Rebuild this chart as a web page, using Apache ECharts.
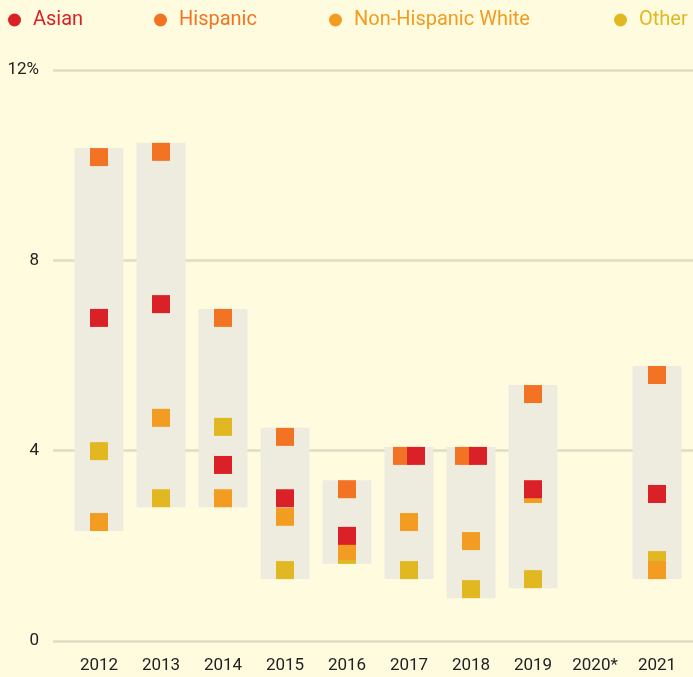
<!DOCTYPE html>
<html>
<head>
<meta charset="utf-8">
<title>Rates by group</title>
<script src="https://cdn.jsdelivr.net/npm/echarts@6/dist/echarts.min.js"></script>
<style>
  html, body { margin: 0; padding: 0; background: #fffbdf; }
  #chart { width: 693px; height: 677px; }
</style>
</head>
<body>
<div id="chart"></div>
<script>
const years = ['2012', '2013', '2014', '2015', '2016', '2017', '2018', '2019', '2020*', '2021']
const yTicks = [0, 4, 8, 12]

// values in %, 2020 has no data
const asian = [6.79, 7.08, 3.7, 3.0, 2.21, 3.89, 3.89, 3.19, null, 3.09]
const hispanic = [10.17, 10.28, 6.79, 4.29, 3.19, 3.89, 3.89, 5.19, null, 5.59]
const nonHispanicWhite = [2.5, 4.69, 3.0, 2.61, 1.89, 2.5, 2.1, 3.09, null, 1.49]
const other = [3.99, 3.0, 4.5, 1.49, 1.81, 1.49, 1.09, 1.3, null, 1.7]

const groups = [
  { name: 'Asian', values: asian, color: '#db2128', z: 5 },
  { name: 'Hispanic', values: hispanic, color: '#f37324', z: 4 },
  { name: 'Non-Hispanic White', values: nonHispanicWhite, color: '#f29c22', z: 3 },
  { name: 'Other', values: other, color: '#e2b822', z: 2 }
]

const axisFont = "'Liberation Sans Narrow', 'Roboto', sans-serif"
const markSize = 18
const dodge = 7

// range of each year (min..max over the groups)
const ranges = []
years.forEach((y, i) => {
  const vals = groups.map(g => g.values[i]).filter(v => v != null)
  if (vals.length) ranges.push([i, Math.min(...vals), Math.max(...vals)])
})

// squares with the exact same value in a year are put side by side,
// the one drawn on top goes to the right
const markSeries = groups.map((g, gi) => {
  const data = g.values.map((v, i) => {
    if (v == null) return null
    const same = groups.map((o, oi) => o.values[i] === v ? oi : -1).filter(x => x >= 0).reverse()
    if (same.length < 2) return [i, v]
    const pos = same.indexOf(gi)
    const off = (pos - (same.length - 1) / 2) * 2 * dodge
    return { value: [i, v], symbolOffset: [off, 0] }
  })
  return {
    name: g.name,
    type: 'scatter',
    xAxisIndex: 1,
    yAxisIndex: 1,
    symbol: 'rect',
    symbolSize: markSize,
    itemStyle: { color: g.color, opacity: 1 },
    z: g.z,
    data: data
  }
})

const legendLeft = [8, 154, 329, 614]

const chart = echarts.init(document.getElementById('chart'))
chart.setOption({
  backgroundColor: '#fffbdf',
  animation: false,
  legend: groups.map((g, i) => ({
    left: legendLeft[i],
    top: 10,
    padding: 0,
    icon: 'circle',
    itemWidth: 13,
    itemHeight: 13,
    itemGap: 0,
    selectedMode: false,
    data: [{ name: g.name, itemStyle: { color: g.color } }],
    textStyle: {
      color: g.color,
      fontFamily: 'Roboto, sans-serif',
      fontSize: 20,
      padding: [0, 0, 0, 7]
    }
  })),
  grid: [
    // grid for the horizontal rules
    { left: 53, right: 0, top: 70, bottom: 36 },
    // grid for the marks
    { left: 68, right: 5, top: 70, bottom: 36 }
  ],
  xAxis: [
    { gridIndex: 0, type: 'value', show: false, min: 0, max: 1 },
    {
      gridIndex: 1,
      type: 'category',
      data: years,
      axisLine: { show: false },
      axisTick: { show: false },
      axisLabel: {
        color: '#222',
        fontFamily: axisFont,
        fontSize: 17,
        margin: 16
      }
    }
  ],
  yAxis: [
    {
      gridIndex: 0,
      type: 'value',
      min: yTicks[0],
      max: yTicks[yTicks.length - 1],
      interval: 4,
      axisLine: { show: false },
      axisTick: { show: false },
      splitLine: { lineStyle: { color: '#dedcc4', width: 2.5 } },
      axisLabel: {
        color: '#222',
        fontFamily: axisFont,
        fontSize: 17,
        margin: 14,
        formatter: v => v === 12 ? '12%' : String(v)
      }
    },
    { gridIndex: 1, type: 'value', min: 0, max: 12, show: false }
  ],
  series: [
    {
      type: 'custom',
      xAxisIndex: 1,
      yAxisIndex: 1,
      silent: true,
      z: 1,
      data: ranges,
      encode: { x: 0, y: [1, 2] },
      renderItem: (params, api) => {
        const top = api.coord([api.value(0), api.value(2)])
        const bot = api.coord([api.value(0), api.value(1)])
        return {
          type: 'rect',
          shape: {
            x: top[0] - 24.5,
            y: top[1] - markSize / 2,
            width: 49,
            height: bot[1] - top[1] + markSize
          },
          style: { fill: '#eeebdf' }
        }
      }
    },
    ...markSeries
  ]
})
</script>
</body>
</html>
